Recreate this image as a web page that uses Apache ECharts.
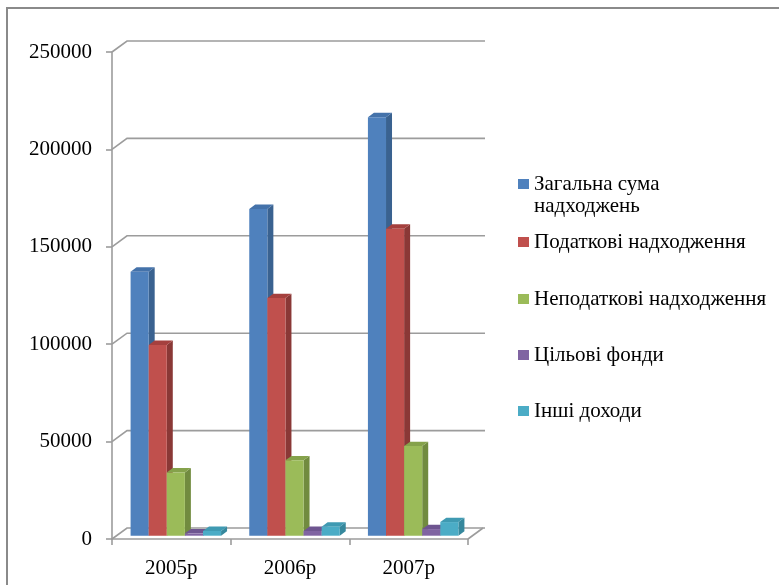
<!DOCTYPE html>
<html>
<head>
<meta charset="utf-8">
<script src="https://cdn.jsdelivr.net/npm/echarts@6/dist/echarts.min.js"></script>
<style>
  html, body { margin: 0; padding: 0; background: #fff; }
  #chart { width: 779px; height: 585px; }
</style>
</head>
<body>
<div id="chart"></div>
<script>
// Revenue by year, thousand UAH
const categories = ['2005р', '2006р', '2007р'];
const seriesNames = [
  'Загальна сума надходжень',
  'Податкові надходження',
  'Неподаткові надходження',
  'Цільові фонди',
  'Інші доходи'
];
const totalIncome = [135500, 167700, 214800];
const taxIncome = [97900, 122000, 157600];
const nonTaxIncome = [32500, 38700, 46000];
const targetFunds = [1200, 2400, 3400];
const otherIncome = [2400, 4600, 7000];
const yTicks = [0, 50000, 100000, 150000, 200000, 250000];

const seriesValues = [totalIncome, taxIncome, nonTaxIncome, targetFunds, otherIncome];
const frontColors = ['#4F81BD', '#C0504D', '#9BBB59', '#8064A2', '#4BACC6'];
const sideColors  = ['#3A6290', '#8A3836', '#718B3F', '#5D4979', '#36889D'];
const topColors   = ['#4472AA', '#A5403E', '#85A24B', '#6E5590', '#3F9AB2'];

const FONT = 'Liberation Serif';
const DEPTH_X = 15, DEPTH_Y = -11;   // full floor depth in pixels
const BAR_Z0 = 0.3, BAR_Z1 = 0.7;    // bar depth span within the floor
const BAR_FRAC = 0.1525;             // bar width as share of a category band
const GRID_COLOR = '#9c9c9c';

// back wall gridlines with the diagonal joints to the front axis
function renderWall(params, api) {
  const cs = params.coordSys;
  const y = api.coord([0, api.value(0)])[1];
  const left = cs.x, right = cs.x + cs.width;
  const children = [{
    type: 'polyline',
    shape: { points: [[left, y], [left + DEPTH_X, y + DEPTH_Y], [right + DEPTH_X + 2, y + DEPTH_Y]] },
    style: { stroke: GRID_COLOR, lineWidth: 1.6, fill: null }
  }];
  if (api.value(0) === 0) {
    children.push({
      type: 'line',
      shape: { x1: right, y1: y, x2: right + DEPTH_X, y2: y + DEPTH_Y },
      style: { stroke: GRID_COLOR, lineWidth: 1.6 }
    });
  }
  return { type: 'group', children: children };
}

// a 3D-looking bar: front face, right side and top
function makeBarRenderer(idx) {
  return function (params, api) {
    const cat = api.value(0);
    const val = api.value(1);
    const top = api.coord([cat, val]);
    const base = api.coord([cat, 0]);
    const bw = api.size([1, 0])[0] * BAR_FRAC;
    const ox = BAR_Z0 * DEPTH_X, oy = BAR_Z0 * DEPTH_Y;
    const dx = (BAR_Z1 - BAR_Z0) * DEPTH_X, dy = (BAR_Z1 - BAR_Z0) * DEPTH_Y;
    const x0 = top[0] + (idx - 2) * bw - bw / 2 + ox;
    const x1 = x0 + bw;
    const yt = top[1] + oy;
    const yb = base[1] + oy;
    return {
      type: 'group',
      children: [
        {
          type: 'polygon',
          shape: { points: [[x1, yt], [x1 + dx, yt + dy], [x1 + dx, yb + dy], [x1, yb]] },
          style: { fill: sideColors[idx] }
        },
        {
          type: 'polygon',
          shape: { points: [[x0, yt], [x0 + dx, yt + dy], [x1 + dx, yt + dy], [x1, yt]] },
          style: { fill: topColors[idx] }
        },
        {
          type: 'rect',
          shape: { x: x0, y: yt, width: bw, height: yb - yt },
          style: { fill: frontColors[idx] }
        }
      ]
    };
  };
}

const barSeries = seriesNames.map((name, i) => ({
  name: name,
  type: 'custom',
  renderItem: makeBarRenderer(i),
  encode: { x: 0, y: 1 },
  itemStyle: { color: frontColors[i] },
  data: seriesValues[i].map((v, c) => [c, v])
}));

// one legend block per entry; the first entry wraps onto a second line
// below the marker, so an empty line above keeps the marker on line one
const legendIconY = [185, 243, 300, 356, 412];
const legends = seriesNames.map((name, i) => {
  const first = i === 0;
  return {
    data: [name],
    orient: 'vertical',
    left: 518,
    top: legendIconY[i] - 12 - (first ? 22 : 0),
    padding: 0,
    itemWidth: 11,
    itemHeight: 10,
    icon: 'rect',
    formatter: n => (first ? ' \nЗагальна сума\nнадходжень' : n),
    textStyle: {
      fontFamily: FONT,
      fontSize: 21,
      color: '#000',
      lineHeight: 22
    }
  };
});

const chart = echarts.init(document.getElementById('chart'), null, { renderer: 'canvas' });
chart.setOption({
  animation: false,
  backgroundColor: '#fff',
  graphic: [{
    type: 'rect',
    shape: { x: 7, y: 8, width: 900, height: 700 },
    style: { fill: null, stroke: '#8a8a8a', lineWidth: 2 },
    silent: true
  }],
  grid: { left: 112, right: 311, top: 52, bottom: 46 },
  legend: legends,
  xAxis: {
    type: 'category',
    data: categories,
    boundaryGap: true,
    axisLine: { lineStyle: { color: GRID_COLOR, width: 1.6 } },
    axisTick: { show: true, interval: 0, length: 6, lineStyle: { color: GRID_COLOR, width: 1.6 } },
    axisLabel: { fontFamily: FONT, fontSize: 21, color: '#000', margin: 19 },
    splitLine: { show: false }
  },
  yAxis: {
    type: 'value',
    min: 0,
    max: 250000,
    interval: 50000,
    axisLine: { show: true, lineStyle: { color: GRID_COLOR, width: 1.6 } },
    axisTick: { show: true, length: 6, lineStyle: { color: GRID_COLOR, width: 1.6 } },
    axisLabel: { fontFamily: FONT, fontSize: 21, color: '#000', margin: 20, formatter: v => String(v) },
    splitLine: { show: false }
  },
  series: [{
    type: 'custom',
    silent: true,
    renderItem: renderWall,
    encode: { y: 0 },
    data: yTicks.map(v => [v]),
    z: 1
  }].concat(barSeries)
});
</script>
</body>
</html>
